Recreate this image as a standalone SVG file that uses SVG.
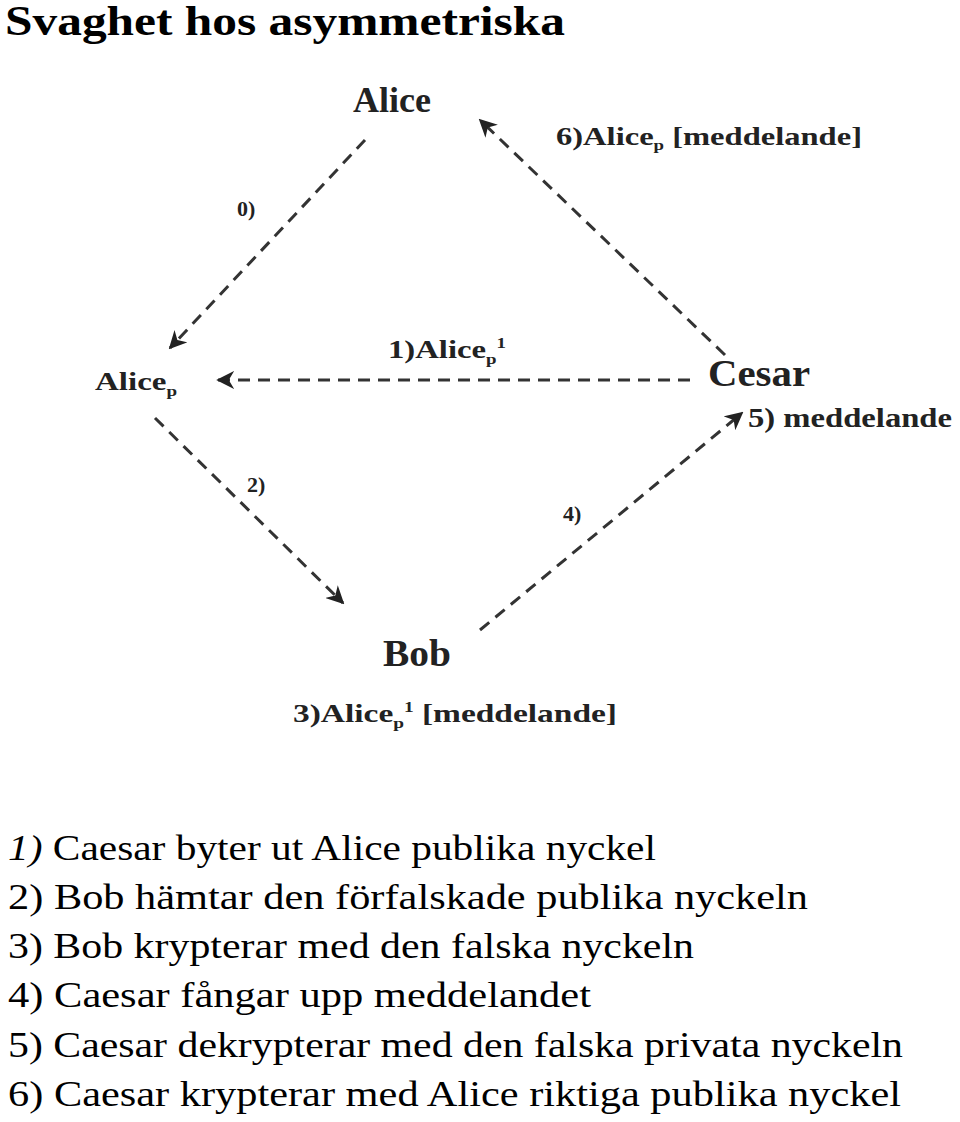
<svg xmlns="http://www.w3.org/2000/svg" width="960" height="1122" viewBox="0 0 960 1122">
<style>
.l{font-family:"Liberation Serif",serif;font-weight:bold;fill:#222}
.t{font-family:"Liberation Serif",serif;font-size:36px;fill:#000}
.c{stroke:#333;stroke-width:3;stroke-dasharray:12 8;fill:none;marker-end:url(#a)}
</style>
<defs><marker id="a" viewBox="0 0 10 10" refX="9" refY="5" markerWidth="6" markerHeight="6" orient="auto" markerUnits="strokeWidth"><path d="M0,0L10,5L0,10L3,5z" fill="#222"/></marker></defs>
<rect width="960" height="1122" fill="#fff"/>
<text x="5" y="35" font-family="Liberation Serif,serif" font-weight="bold" font-size="42" textLength="560" lengthAdjust="spacingAndGlyphs">Svaghet hos asymmetriska</text>
<g id="connectors">
<path class="c" d="M365,140L170,348"/>
<path class="c" d="M725,355L480,120"/>
<path class="c" d="M690,380L218,380"/>
<path class="c" d="M155,418L343,603"/>
<path class="c" d="M480,630L742,413"/>
<text class="l" x="237" y="216" font-size="22">0)</text>
<text class="l" x="556" y="145" font-size="26" textLength="306" lengthAdjust="spacingAndGlyphs">6)Alice<tspan font-size="15" dy="5">p</tspan><tspan dy="-5"> [meddelande]</tspan></text>
<text class="l" x="388" y="358" font-size="26" textLength="118" lengthAdjust="spacingAndGlyphs">1)Alice<tspan font-size="15" dy="6">p</tspan><tspan font-size="15" dy="-16">1</tspan></text>
<text class="l" x="247" y="492" font-size="22">2)</text>
<text class="l" x="563" y="521" font-size="22">4)</text>
<text class="l" x="748" y="427" font-size="27" textLength="204" lengthAdjust="spacingAndGlyphs">5) meddelande</text>
</g>
<g id="alice"><text class="l" x="392" y="112" font-size="36" text-anchor="middle">Alice</text></g>
<g id="alicep"><text class="l" x="95" y="390" font-size="26" textLength="82" lengthAdjust="spacingAndGlyphs">Alice<tspan font-size="15" dy="6">p</tspan></text></g>
<g id="cesar"><text class="l" x="708" y="386" font-size="38" textLength="102" lengthAdjust="spacingAndGlyphs">Cesar</text></g>
<g id="bob"><text class="l" x="383" y="666" font-size="38" textLength="68" lengthAdjust="spacingAndGlyphs">Bob</text>
<text class="l" x="293" y="722" font-size="26" textLength="324" lengthAdjust="spacingAndGlyphs">3)Alice<tspan font-size="15" dy="6">p</tspan><tspan font-size="15" dy="-16">1</tspan><tspan dy="10"> [meddelande]</tspan></text></g>
<g id="list">
<text class="t" x="8" y="860" textLength="648" lengthAdjust="spacingAndGlyphs"><tspan font-style="italic">1)</tspan> Caesar byter ut Alice publika nyckel</text>
<text class="t" x="8" y="909" textLength="800" lengthAdjust="spacingAndGlyphs">2)  Bob hämtar den förfalskade publika nyckeln</text>
<text class="t" x="8" y="958" textLength="686" lengthAdjust="spacingAndGlyphs">3)  Bob krypterar med den falska nyckeln</text>
<text class="t" x="8" y="1007" textLength="583" lengthAdjust="spacingAndGlyphs">4)  Caesar fångar upp meddelandet</text>
<text class="t" x="8" y="1057" textLength="895" lengthAdjust="spacingAndGlyphs">5)  Caesar dekrypterar med den falska privata nyckeln</text>
<text class="t" x="8" y="1106" textLength="893" lengthAdjust="spacingAndGlyphs">6)  Caesar krypterar med Alice riktiga publika nyckel</text>
</g>
</svg>
